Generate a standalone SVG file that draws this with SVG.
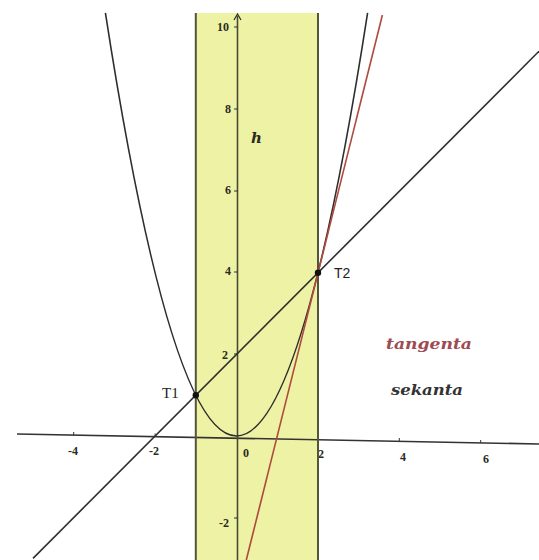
<svg xmlns="http://www.w3.org/2000/svg" width="539" height="560" viewBox="0 0 539 560">
  <defs>
    <style>
      .lbl { font-family: "Liberation Serif", "DejaVu Serif", serif; font-weight: bold; font-size: 12px; fill: #2a2a22; }
      .pt { font-family: "Liberation Serif", "DejaVu Serif", serif; font-size: 15px; fill: #222; }
      .ital { font-family: "DejaVu Serif", "Liberation Serif", serif; font-style: italic; font-weight: bold; font-size: 15px; }
      .curve { fill: none; stroke: #2e2e2e; stroke-width: 1.6; }
      .edge { stroke: #55553a; stroke-width: 2; }
      .tick { stroke: #333; stroke-width: 1; }
    </style>
  </defs>
  <rect width="539" height="560" fill="#ffffff"/>

  <!-- shaded band between x=-1 and x=2 -->
  <rect id="band" x="195.8" y="13" width="122.1" height="547" fill="#eef2a4"/>

  <!-- axes -->
  <g id="axes">
    <line x1="17" y1="434" x2="539" y2="444" stroke="#333" stroke-width="1.6"/>
    <line x1="237.5" y1="560" x2="237.5" y2="16" stroke="#4a4a32" stroke-width="1.6"/>
    <path d="M234,20 L237.5,14 L241,20" fill="none" stroke="#333" stroke-width="1.3"/>
    <line class="tick" x1="234" y1="27" x2="238" y2="27"/>
    <line class="tick" x1="234" y1="109" x2="238" y2="109"/>
    <line class="tick" x1="234" y1="191" x2="238" y2="191"/>
    <line class="tick" x1="234" y1="272" x2="238" y2="272"/>
    <line class="tick" x1="234" y1="354" x2="238" y2="354"/>
    <line class="tick" x1="234" y1="518" x2="238" y2="518"/>
    <line class="tick" x1="73.7" y1="432" x2="73.7" y2="435"/>
    <line class="tick" x1="155.1" y1="433.5" x2="155.1" y2="436.5"/>
    <line class="tick" x1="399.3" y1="438" x2="399.3" y2="441"/>
    <line class="tick" x1="480.7" y1="440" x2="480.7" y2="443"/>
  </g>

  <!-- tick labels -->
  <g id="tick-labels">
    <text class="lbl" x="229" y="31" text-anchor="end">10</text>
    <text class="lbl" x="231" y="113" text-anchor="end">8</text>
    <text class="lbl" x="231" y="194" text-anchor="end">6</text>
    <text class="lbl" x="231" y="275" text-anchor="end">4</text>
    <text class="lbl" x="228" y="359" text-anchor="end">2</text>
    <text class="lbl" x="229" y="527" text-anchor="end">-2</text>
    <text class="lbl" x="73" y="455" text-anchor="middle">-4</text>
    <text class="lbl" x="154" y="455" text-anchor="middle">-2</text>
    <text class="lbl" x="246" y="457" text-anchor="middle">0</text>
    <text class="lbl" x="321" y="458" text-anchor="middle">2</text>
    <text class="lbl" x="403" y="461" text-anchor="middle">4</text>
    <text class="lbl" x="486" y="463" text-anchor="middle">6</text>
  </g>

  <!-- band edges -->
  <g id="band-edges">
    <line class="edge" x1="195.8" y1="13" x2="195.8" y2="560"/>
    <line class="edge" x1="318" y1="13" x2="318" y2="560"/>
  </g>

  <!-- curves -->
  <g id="connectors">
    <path id="parabola" class="curve" d="M105.4,12.9 Q236.5,859.1 367.6,12.9"/>
    <line id="secant" class="curve" x1="33" y1="558.4" x2="539" y2="51.2"/>
    <line id="tangent" x1="246.3" y1="560" x2="382.4" y2="15" stroke="#b04a3c" stroke-width="1.6"/>
  </g>

  <!-- points -->
  <g id="T1">
    <circle cx="195.8" cy="395.2" r="3.2" fill="#111"/>
    <text class="pt" x="162" y="398">T1</text>
  </g>
  <g id="T2">
    <circle cx="318" cy="272.8" r="3.2" fill="#111"/>
    <text class="pt" x="334" y="278" style="font-family:'Liberation Sans','DejaVu Sans',sans-serif;font-size:14px">T2</text>
  </g>

  <!-- labels -->
  <g id="labels">
    <text class="ital" x="251" y="143" fill="#2a2a22">h</text>
    <text class="ital" x="386" y="349" fill="#9e4a52" textLength="86" lengthAdjust="spacingAndGlyphs">tangenta</text>
    <text class="ital" x="391" y="395" fill="#333" textLength="72" lengthAdjust="spacingAndGlyphs">sekanta</text>
  </g>
</svg>
